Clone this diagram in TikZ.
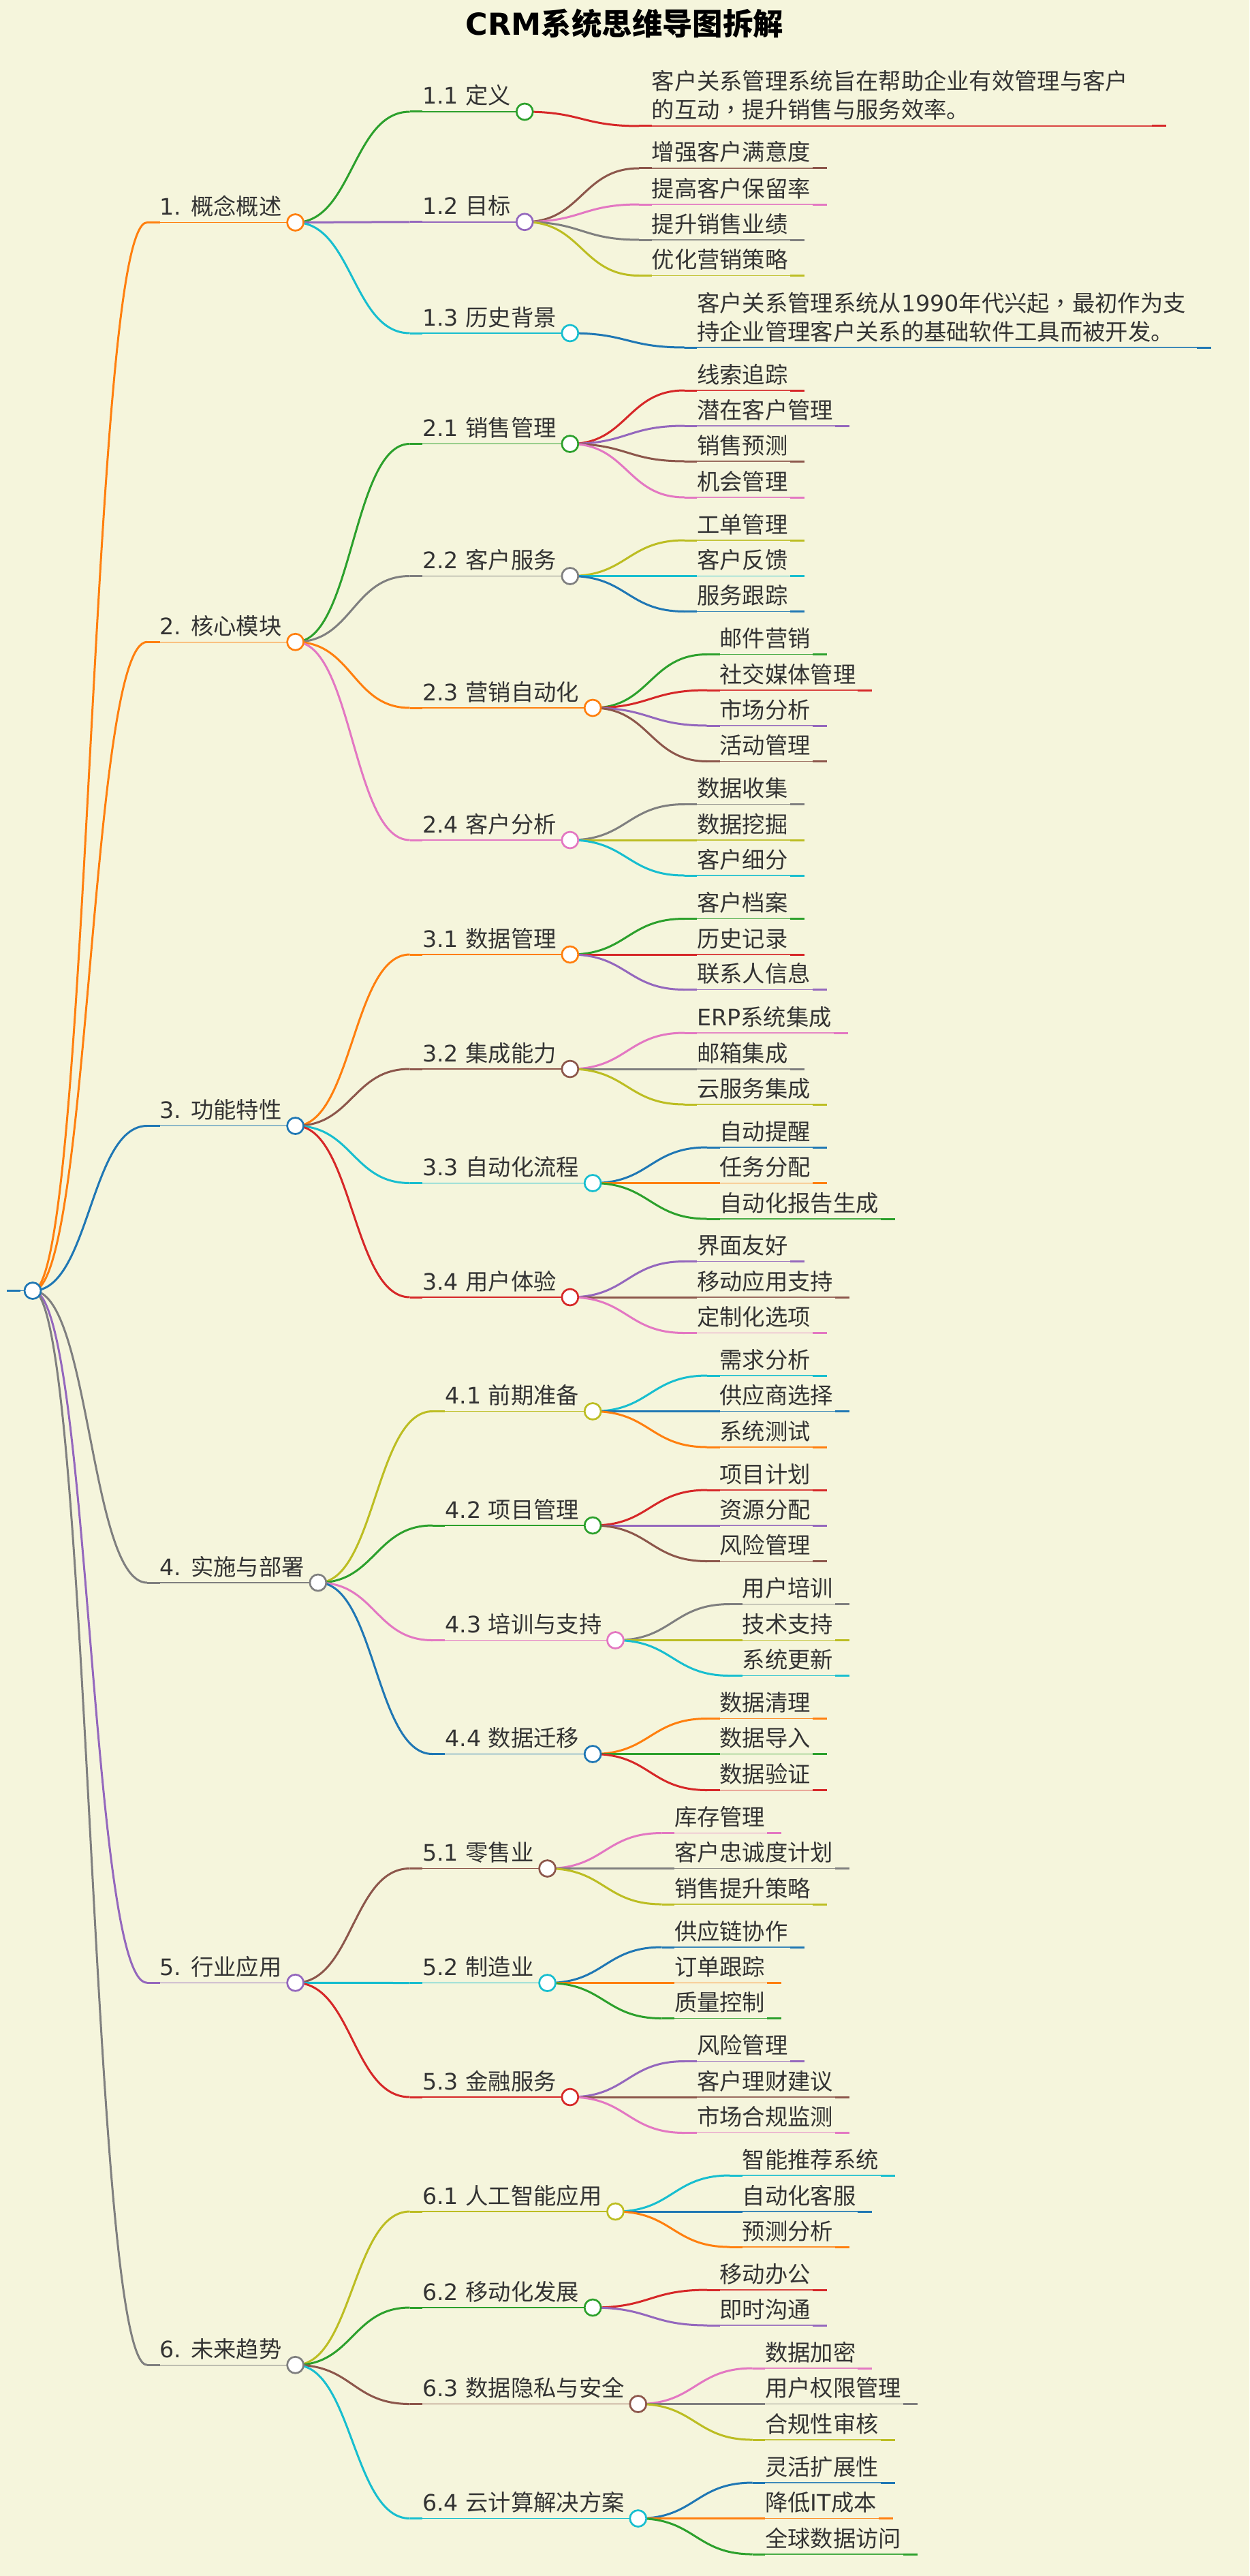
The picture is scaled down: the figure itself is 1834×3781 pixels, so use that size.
\documentclass[tikz,border=0pt]{standalone}
\usepackage{fontspec}
\setmainfont{Noto Sans CJK SC}
\newfontfamily\dv{DejaVu Sans}
\newfontfamily\tc{Noto Sans CJK TC}
\usetikzlibrary{calc}
\definecolor{bgc}{HTML}{F5F5DC}
\definecolor{txt}{HTML}{333333}
\definecolor{tblue}{HTML}{1F77B4}
\definecolor{torange}{HTML}{FF7F0E}
\definecolor{tgreen}{HTML}{2CA02C}
\definecolor{tred}{HTML}{D62728}
\definecolor{tpurple}{HTML}{9467BD}
\definecolor{tbrown}{HTML}{8C564B}
\definecolor{tpink}{HTML}{E377C2}
\definecolor{tgray}{HTML}{7F7F7F}
\definecolor{tolive}{HTML}{BCBD22}
\definecolor{tcyan}{HTML}{17BECF}
\pgfdeclarelayer{fg}
\pgfsetlayers{main,fg}
\tikzset{
  lbl/.style={inner sep=0pt, outer sep=0pt, text=txt, font=\fontsize{33.3}{42}\selectfont},
  mmdot/.style={circle, fill=white, line width=2.7pt, minimum size=24pt, inner sep=0pt},
  linkline/.style={line width=3pt},
  thinline/.style={line width=1.5pt},
}
% non-leaf branch: name, parent, y, colour, label
\newcommand\branch[5]{%
  \coordinate (#1x) at ($(#2.center)+(168,0)$);
  \coordinate (#1y) at (0,#3);
  \coordinate (#1e) at (#1x |- #1y);
  \coordinate (#1s) at ($(#1e)+(18.5,0)$);
  \node[lbl,anchor=base west] (#1t) at ($(#1s)+(0,-11)$) {#5};
  \begin{pgfonlayer}{fg}
    \node[mmdot,draw=#4] (#1) at ($(#1t.base east)+(20,11)$) {};
  \end{pgfonlayer}
  \draw[linkline,draw=#4] (#2.center) .. controls +(84,0) and +(-84,0) .. (#1e);
  \draw[linkline,draw=#4] (#1e) -- (#1s);
  \draw[thinline,draw=#4] (#1s) -- (#1.center);
}
% leaf: name, parent, y, colour, label
\newcommand\leaf[5]{%
  \coordinate (#1x) at ($(#2.center)+(168,0)$);
  \coordinate (#1y) at (0,#3);
  \coordinate (#1e) at (#1x |- #1y);
  \coordinate (#1s) at ($(#1e)+(18.5,0)$);
  \node[lbl,anchor=base west] (#1t) at ($(#1s)+(0,-11)$) {#5};
  \coordinate (#1z) at ($(#1t.base east)+(24,11)$);
  \coordinate (#1w) at ($(#1z)+(-21,0)$);
  \draw[linkline,draw=#4] (#2.center) .. controls +(84,0) and +(-84,0) .. (#1e);
  \draw[linkline,draw=#4] (#1e) -- (#1s);
  \draw[thinline,draw=#4,draw opacity=0.85] (#1s) -- (#1z);
  \draw[linkline,draw=#4] (#1w) -- (#1z);
}
% two-line leaf: name, parent, y, colour, line 1, line 2
\newcommand\leaftwo[6]{%
  \coordinate (#1x) at ($(#2.center)+(168,0)$);
  \coordinate (#1y) at (0,#3);
  \coordinate (#1e) at (#1x |- #1y);
  \coordinate (#1s) at ($(#1e)+(18.5,0)$);
  \node[lbl,anchor=base west] (#1a) at ($(#1s)+(0,-53)$) {#5};
  \node[lbl,anchor=base west] (#1b) at ($(#1s)+(0,-11)$) {#6};
  \coordinate (#1z) at ($(#1s)+(755,0)$);
  \coordinate (#1w) at ($(#1z)+(-21,0)$);
  \draw[linkline,draw=#4] (#2.center) .. controls +(84,0) and +(-84,0) .. (#1e);
  \draw[linkline,draw=#4] (#1e) -- (#1s);
  \draw[thinline,draw=#4,draw opacity=0.85] (#1s) -- (#1z);
  \draw[linkline,draw=#4] (#1w) -- (#1z);
}
\begin{document}
\begin{tikzpicture}[x=1pt,y=-1pt]
\fill[bgc] (0,0) rectangle (1834,3781);
\useasboundingbox (0,0) rectangle (1834,3781);

\node[anchor=base, inner sep=0pt, font=\fontsize{44.4}{50}\selectfont\bfseries, text=black] (title) at (917,52) {{\dv CRM}系统思维导图拆解};

% root
\begin{pgfonlayer}{fg}
  \node[mmdot,draw=tblue] (root) at (48,1894.5) {};
\end{pgfonlayer}
\coordinate (rootl) at (10,1894.5);
\coordinate (rootm) at (30,1894.5);
\draw[linkline,draw=tblue] (rootl) -- (rootm);
\draw[thinline,draw=tblue] (rootm) -- (root.center);

% level 1
\branch{n1}{root}{326.5}{torange}{{\dv 1. }概念概述}
\branch{n2}{root}{942.25}{torange}{{\dv 2. }核心模块}
\branch{n3}{root}{1652.5}{tblue}{{\dv 3. }功能特性}
\branch{n4}{root}{2323}{tgray}{{\dv 4. }实施与部署}
\branch{n5}{root}{2910.25}{tpurple}{{\dv 5. }行业应用}
\branch{n6}{root}{3471.25}{tgray}{{\dv 6. }未来趋势}

% level 2
\branch{n11}{n1}{164}{tgreen}{{\dv 1.1 }定义}
\branch{n12}{n1}{325.75}{tpurple}{{\dv 1.2 }目标}
\branch{n13}{n1}{489}{tcyan}{{\dv 1.3 }历史背景}
\branch{n21}{n2}{651.5}{tgreen}{{\dv 2.1 }销售管理}
\branch{n22}{n2}{845.5}{tgray}{{\dv 2.2 }客户服务}
\branch{n23}{n2}{1039}{torange}{{\dv 2.3 }营销自动化}
\branch{n24}{n2}{1233}{tpink}{{\dv 2.4 }客户分析}
\branch{n31}{n3}{1401}{torange}{{\dv 3.1 }数据管理}
\branch{n32}{n3}{1569}{tbrown}{{\dv 3.2 }集成能力}
\branch{n33}{n3}{1736.5}{tcyan}{{\dv 3.3 }自动化流程}
\branch{n34}{n3}{1904}{tred}{{\dv 3.4 }用户体验}
\branch{n41}{n4}{2071.5}{tolive}{{\dv 4.1 }前期准备}
\branch{n42}{n4}{2239}{tgreen}{{\dv 4.2 }项目管理}
\branch{n43}{n4}{2407.5}{tpink}{{\dv 4.3 }培训与支持}
\branch{n44}{n4}{2574.5}{tblue}{{\dv 4.4 }数据迁移}
\branch{n51}{n5}{2742.5}{tbrown}{{\dv 5.1 }零售业}
\branch{n52}{n5}{2910.5}{tcyan}{{\dv 5.2 }制造业}
\branch{n53}{n5}{3078}{tred}{{\dv 5.3 }金融服务}
\branch{n61}{n6}{3246}{tolive}{{\dv 6.1 }人工智能应用}
\branch{n62}{n6}{3387}{tgreen}{{\dv 6.2 }移动化发展}
\branch{n63}{n6}{3528.5}{tbrown}{{\dv 6.3 }数据隐私与安全}
\branch{n64}{n6}{3696.5}{tcyan}{{\dv 6.4 }云计算解决方案}

% leaves
\leaftwo{l11a}{n11}{185}{tred}{客户关系管理系统旨在帮助企业有效管理与客户}{的互动{\tc ，}提升销售与服务效率。}
\leaf{l12a}{n12}{247}{tbrown}{增强客户满意度}
\leaf{l12b}{n12}{300}{tpink}{提高客户保留率}
\leaf{l12c}{n12}{352}{tgray}{提升销售业绩}
\leaf{l12d}{n12}{404.5}{tolive}{优化营销策略}
\leaftwo{l13a}{n13}{510}{tblue}{客户关系管理系统从{\dv 1990}年代兴起{\tc ，}最初作为支}{持企业管理客户关系的基础软件工具而被开发。}
\leaf{l21a}{n21}{573}{tred}{线索追踪}
\leaf{l21b}{n21}{625}{tpurple}{潜在客户管理}
\leaf{l21c}{n21}{677}{tbrown}{销售预测}
\leaf{l21d}{n21}{730}{tpink}{机会管理}
\leaf{l22a}{n22}{793}{tolive}{工单管理}
\leaf{l22b}{n22}{845.5}{tcyan}{客户反馈}
\leaf{l22c}{n22}{897.5}{tblue}{服务跟踪}
\leaf{l23a}{n23}{960.5}{tgreen}{邮件营销}
\leaf{l23b}{n23}{1013}{tred}{社交媒体管理}
\leaf{l23c}{n23}{1065}{tpurple}{市场分析}
\leaf{l23d}{n23}{1117.5}{tbrown}{活动管理}
\leaf{l24a}{n24}{1180.5}{tgray}{数据收集}
\leaf{l24b}{n24}{1233}{tolive}{数据挖掘}
\leaf{l24c}{n24}{1285}{tcyan}{客户细分}
\leaf{l31a}{n31}{1348.5}{tgreen}{客户档案}
\leaf{l31b}{n31}{1401}{tred}{历史记录}
\leaf{l31c}{n31}{1452.5}{tpurple}{联系人信息}
\leaf{l32a}{n32}{1516}{tpink}{{\dv ERP}系统集成}
\leaf{l32b}{n32}{1569}{tgray}{邮箱集成}
\leaf{l32c}{n32}{1621}{tolive}{云服务集成}
\leaf{l33a}{n33}{1684}{tblue}{自动提醒}
\leaf{l33b}{n33}{1736.5}{torange}{任务分配}
\leaf{l33c}{n33}{1789}{tgreen}{自动化报告生成}
\leaf{l34a}{n34}{1851.5}{tpurple}{界面友好}
\leaf{l34b}{n34}{1904}{tbrown}{移动应用支持}
\leaf{l34c}{n34}{1956.5}{tpink}{定制化选项}
\leaf{l41a}{n41}{2019}{tcyan}{需求分析}
\leaf{l41b}{n41}{2071.5}{tblue}{供应商选择}
\leaf{l41c}{n41}{2124}{torange}{系统测试}
\leaf{l42a}{n42}{2187}{tred}{项目计划}
\leaf{l42b}{n42}{2239}{tpurple}{资源分配}
\leaf{l42c}{n42}{2291.5}{tbrown}{风险管理}
\leaf{l43a}{n43}{2354.5}{tgray}{用户培训}
\leaf{l43b}{n43}{2407.5}{tolive}{技术支持}
\leaf{l43c}{n43}{2459.5}{tcyan}{系统更新}
\leaf{l44a}{n44}{2522.5}{torange}{数据清理}
\leaf{l44b}{n44}{2574.5}{tgreen}{数据导入}
\leaf{l44c}{n44}{2627.5}{tred}{数据验证}
\leaf{l51a}{n51}{2690.5}{tpink}{库存管理}
\leaf{l51b}{n51}{2742.5}{tgray}{客户忠诚度计划}
\leaf{l51c}{n51}{2795}{tolive}{销售提升策略}
\leaf{l52a}{n52}{2858}{tblue}{供应链协作}
\leaf{l52b}{n52}{2910.5}{torange}{订单跟踪}
\leaf{l52c}{n52}{2962.5}{tgreen}{质量控制}
\leaf{l53a}{n53}{3025.5}{tpurple}{风险管理}
\leaf{l53b}{n53}{3078}{tbrown}{客户理财建议}
\leaf{l53c}{n53}{3130.5}{tpink}{市场合规监测}
\leaf{l61a}{n61}{3193}{tcyan}{智能推荐系统}
\leaf{l61b}{n61}{3246}{tblue}{自动化客服}
\leaf{l61c}{n61}{3298}{torange}{预测分析}
\leaf{l62a}{n62}{3361}{tred}{移动办公}
\leaf{l62b}{n62}{3413}{tpurple}{即时沟通}
\leaf{l63a}{n63}{3476}{tpink}{数据加密}
\leaf{l63b}{n63}{3528.5}{tgray}{用户权限管理}
\leaf{l63c}{n63}{3581}{tolive}{合规性审核}
\leaf{l64a}{n64}{3644}{tblue}{灵活扩展性}
\leaf{l64b}{n64}{3696.5}{torange}{降低{\dv IT}成本}
\leaf{l64c}{n64}{3749}{tgreen}{全球数据访问}
\end{tikzpicture}
\end{document}
